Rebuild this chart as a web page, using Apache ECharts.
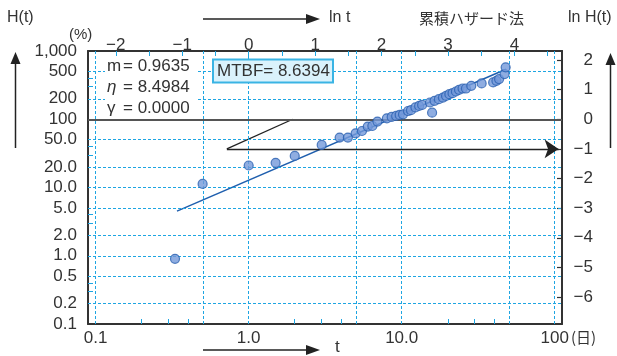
<!DOCTYPE html>
<html><head><meta charset="utf-8">
<script src="https://cdn.jsdelivr.net/npm/echarts@6/dist/echarts.min.js"></script>
<style>html,body{margin:0;padding:0;background:#fff}#c{width:617px;height:356px}</style>
</head><body><div id="c"></div>
<script>
// ---- data ----
const failureDays = [0.33,0.5,1.0,1.5,2.0,3.0,3.93,4.45,5.0,5.5,6.0,6.43,6.94,8.0,8.6,9.2,9.7,10.2,11.0,11.5,12.3,13.0,13.6,15.3,15.8,16.4,17.5,18.6,19.5,20.5,21.5,22.6,23.7,25.0,26.3,28.5,33.3,39.6,41.6,43.3,47.0,47.8];
const cumHazardPct = [0.9,11.3,21,23,29,42,53.8,53.8,62.2,67.3,78.1,79.7,92.5,103,108,112,115.7,118,132,136,149,157,162,176,125,186,197,208,220,233,241,255,270,282,282,309,335,346,366,388,459,576];
const fitLineT = [0.34, 48];
const fitLinePct = [4.5, 540];
const constructT = [0.72, 1.94];
const constructLnH = [-1, 0];
const arrowT = [0.72, 106];
const arrowLnH = -1;

const bottomLabelT = [0.1, 1, 10, 100];
const bottomLabelText = ['0.1', '1.0', '10.0', '100'];
const bottomMinorT = [0.2, 0.3, 0.4, 2, 3, 4, 20, 30, 40];
const gridT = [0.1, 0.5, 1, 5, 10, 50, 100];
const topLnT = [-2, -1, 0, 1, 2, 3, 4];
const topMinorLnT = [-2, -1.5, -1, -0.5, 0, 0.5, 1, 1.5, 2, 2.5, 3, 3.5, 4, 4.5];
const leftLabelPct = [1000, 500, 200, 100, 50, 20, 10, 5, 2, 1, 0.5, 0.2, 0.1];
const leftLabelText = ['1,000', '500', '200', '100', '50.0', '20.0', '10.0', '5.0', '2.0', '1.0', '0.5', '0.2', '0.1'];
const leftMinorPct = [400, 300, 40, 30, 4, 3, 0.4, 0.3];
const gridPct = [500, 200, 50, 20, 10, 5, 2, 1, 0.5, 0.2];
const rightLnH = [-6, -5, -4, -3, -2, -1, 0, 1, 2];

const params = [['m', '= 0.9635', false], ['η', '= 8.4984', true], ['γ', '= 0.0000', false]];
const mtbfText = 'MTBF= 8.6394';

// ---- transforms into the plotting space (log10 t, log10 H%) ----
const LE = Math.LOG10E;
const lx = t => Math.log10(t);
const lxLn = k => k * LE;
const ly = h => Math.log10(h);
const lyLn = k => 2 + k * LE;
const X_MIN = lx(0.0891), X_MAX = lx(111.6);
const Y_MIN = ly(0.1), Y_MAX = ly(1000);

const FONT = '"Liberation Sans", Arial, sans-serif';
const CJK = '"Noto Sans CJK JP", sans-serif';
const CYAN = '#1ea5e2';
const DARK = '#333';
const minus = s => String(s).replace('-', '\u2212');
const pick = (vals, texts) => v => {
  for (let i = 0; i < vals.length; i++) if (Math.abs(vals[i] - v) < 1e-6) return texts[i];
  return '';
};

const chart = echarts.init(document.getElementById('c'), null, {renderer: 'canvas'});
const axisLine = {show: true, onZero: false, lineStyle: {color: DARK, width: 2}};
const lblBase = {fontSize: 17, color: DARK, fontFamily: FONT};

chart.setOption({
  animation: false,
  backgroundColor: '#fff',
  grid: {left: 88, right: 55, top: 51, bottom: 32, containLabel: false, outerBoundsMode: 'none'},
  xAxis: [
    {type: 'value', position: 'bottom', min: X_MIN, max: X_MAX, axisLine,
      axisTick: {show: true, inside: true, length: 5, customValues: bottomMinorT.map(lx), lineStyle: {color: CYAN, width: 1}},
      axisLabel: Object.assign({}, lblBase, {customValues: bottomLabelT.map(lx), margin: 6,
        formatter: pick(bottomLabelT.map(lx), bottomLabelText)}),
      splitLine: {show: false}},
    {type: 'value', position: 'top', min: X_MIN, max: X_MAX, axisLine,
      axisTick: {show: true, inside: true, length: 5, customValues: topMinorLnT.map(lxLn), lineStyle: {color: CYAN, width: 1}},
      axisLabel: Object.assign({}, lblBase, {customValues: topLnT.map(lxLn), margin: -3,
        formatter: pick(topLnT.map(lxLn), topLnT.map(minus))}),
      splitLine: {show: false}}
  ],
  yAxis: [
    {type: 'value', position: 'left', min: Y_MIN, max: Y_MAX, axisLine,
      axisTick: {show: true, inside: true, length: 5, customValues: leftMinorPct.map(ly), lineStyle: {color: CYAN, width: 1}},
      axisLabel: Object.assign({}, lblBase, {customValues: leftLabelPct.map(ly), margin: 11,
        formatter: pick(leftLabelPct.map(ly), leftLabelText)}),
      splitLine: {show: false}},
    {type: 'value', position: 'right', min: Y_MIN, max: Y_MAX, axisLine,
      axisTick: {show: true, inside: true, length: 5, customValues: rightLnH.map(lyLn), lineStyle: {color: DARK, width: 1.2}},
      axisLabel: Object.assign({}, lblBase, {customValues: rightLnH.map(lyLn), margin: 31, align: 'right',
        formatter: pick(rightLnH.map(lyLn), rightLnH.map(minus))}),
      splitLine: {show: false}}
  ],
  series: [
    {type: 'line', data: [], z: 1, silent: true,
      markLine: {silent: true, symbol: ['none', 'none'], label: {show: false}, emphasis: {disabled: true},
        lineStyle: {color: CYAN, type: [3, 2], width: 1},
        data: gridT.map(t => ({xAxis: lx(t)}))
          .concat(gridPct.map(h => ({yAxis: ly(h)})))
          .concat([{yAxis: ly(100), lineStyle: {type: 'solid', color: '#555', width: 2}}])}},
    {type: 'line', z: 3, silent: true, symbol: 'none',
      lineStyle: {color: '#1f5fae', width: 1.5},
      data: fitLineT.map((t, i) => [lx(t), ly(fitLinePct[i])])},
    {type: 'line', z: 3, silent: true, symbol: 'none',
      lineStyle: {color: '#222', width: 1.3},
      data: constructT.map((t, i) => [lx(t), lyLn(constructLnH[i])]),
      markLine: {silent: true, label: {show: false}, symbolSize: 14, emphasis: {disabled: true},
        lineStyle: {color: '#222', type: 'solid', width: 1.3},
        data: [[{coord: [lx(arrowT[0]), lyLn(arrowLnH)], symbol: 'none'},
                {coord: [lx(arrowT[1]), lyLn(arrowLnH)], symbol: 'arrow'}]]}},
    {type: 'scatter', z: 5, symbolSize: 9,
      itemStyle: {color: '#7398da', borderColor: '#2a60b0', borderWidth: 1.2},
      data: failureDays.map((t, i) => [lx(t), ly(cumHazardPct[i])])}
  ],
  graphic: [
    // parameter box
    {type: 'rect', shape: {x: 105, y: 56, width: 92, height: 60}, style: {fill: '#fff'}, z: 10}
  ].concat(params.map((p, i) => ({
    type: 'text', z: 11, x: 107, y: 66 + i * 21,
    style: {text: p[0], font: (p[2] ? 'italic ' : '') + '17px ' + FONT, fill: DARK, verticalAlign: 'middle'}
  }))).concat(params.map((p, i) => ({
    type: 'text', z: 11, x: 123, y: 66 + i * 21,
    style: {text: p[1], font: '17px ' + FONT, fill: DARK, verticalAlign: 'middle'}
  }))).concat([
    {type: 'rect', z: 10, shape: {x: 213, y: 59.5, width: 120, height: 23},
      style: {fill: '#daf2fc', stroke: '#3ab4e4', lineWidth: 2}},
    {type: 'text', z: 11, x: 217, y: 71.5, style: {text: mtbfText, font: '17px ' + FONT, fill: DARK, verticalAlign: 'middle'}},
    // outer captions
    {type: 'text', x: 7, y: 18, style: {text: 'H(t)', font: '16px ' + FONT, fill: DARK, verticalAlign: 'middle'}},
    {type: 'text', x: 69, y: 35, style: {text: '(%)', font: '15px ' + FONT, fill: DARK, verticalAlign: 'middle'}},
    {type: 'text', x: 329, y: 18, style: {text: 'ln t', font: '16px ' + FONT, fill: DARK, verticalAlign: 'middle'}},
    {type: 'text', x: 419, y: 18, style: {text: '累積ハザード法', font: '15px ' + CJK, fill: DARK, verticalAlign: 'middle'}},
    {type: 'text', x: 568, y: 18, style: {text: 'ln H(t)', font: '16px ' + FONT, fill: DARK, verticalAlign: 'middle'}},
    {type: 'text', x: 571, y: 337, style: {text: '(日)', font: '15px ' + CJK, fill: DARK, verticalAlign: 'middle'}},
    {type: 'text', x: 335, y: 347, style: {text: 't', font: '17px ' + FONT, fill: DARK, verticalAlign: 'middle'}},
    // arrows
    {type: 'line', shape: {x1: 15.5, y1: 148, x2: 15.5, y2: 62}, style: {stroke: '#222', lineWidth: 1.5}},
    {type: 'polygon', shape: {points: [[15.5, 52], [10.5, 64], [20.5, 64]]}, style: {fill: '#222'}},
    {type: 'line', shape: {x1: 610.5, y1: 148, x2: 610.5, y2: 62}, style: {stroke: '#222', lineWidth: 1.5}},
    {type: 'polygon', shape: {points: [[610.5, 53], [605.5, 65], [615.5, 65]]}, style: {fill: '#222'}},
    {type: 'line', shape: {x1: 203, y1: 19, x2: 308, y2: 19}, style: {stroke: '#222', lineWidth: 1.5}},
    {type: 'polygon', shape: {points: [[320, 19], [306, 14], [306, 24]]}, style: {fill: '#222'}},
    {type: 'line', shape: {x1: 203, y1: 350, x2: 308, y2: 350}, style: {stroke: '#222', lineWidth: 1.5}},
    {type: 'polygon', shape: {points: [[320, 350], [306, 345], [306, 355]]}, style: {fill: '#222'}}
  ])
});
</script>
</body></html>
